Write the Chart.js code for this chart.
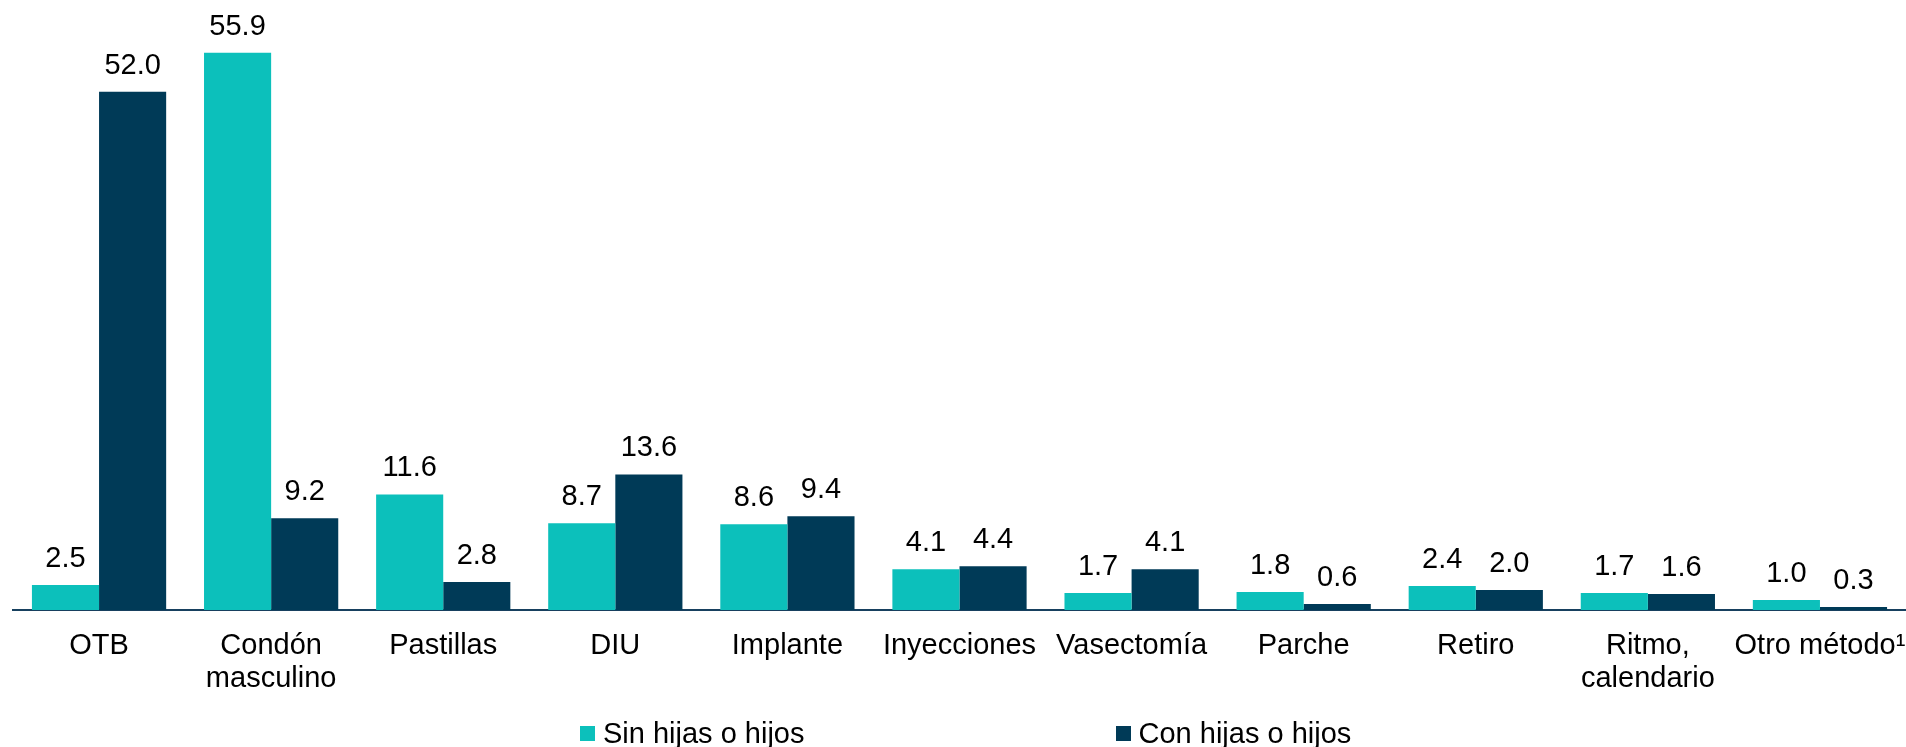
<!DOCTYPE html>
<html>
<head>
<meta charset="utf-8">
<script src="https://cdn.jsdelivr.net/npm/chart.js@4/dist/chart.umd.min.js"></script>
<style>
  html, body { margin: 0; padding: 0; background: #fff; }
  #wrap { position: relative; width: 1906px; height: 747px; }
  #legend {
    position: absolute; left: 580px; top: 717px; height: 32px;
    display: flex; align-items: center; gap: 311px;
    font: 29px "Liberation Sans", Arial, sans-serif; color: #000;
  }
  .item { display: flex; align-items: center; white-space: nowrap; }
  .box { width: 15px; height: 15px; margin-right: 8px; }
</style>
</head>
<body>
<div id="wrap">
  <canvas id="chart" width="1906" height="747"></canvas>
  <div id="legend"></div>
</div>
<script>
const categories = [
  "OTB", ["Condón", "masculino"], "Pastillas", "DIU", "Implante", "Inyecciones",
  "Vasectomía", "Parche", "Retiro", ["Ritmo,", "calendario"], "Otro método\u00b9"
];
const sinHijos = [2.5, 55.9, 11.6, 8.7, 8.6, 4.1, 1.7, 1.8, 2.4, 1.7, 1.0];
const conHijos = [52.0, 9.2, 2.8, 13.6, 9.4, 4.4, 4.1, 0.6, 2.0, 1.6, 0.3];
const seriesNames = ["Sin hijas o hijos", "Con hijas o hijos"];

const TEAL = "#0cc0bb";
const NAVY = "#003a57";
const FONT = '"Liberation Sans", Arial, sans-serif';

// value labels above each bar
const valueLabels = {
  id: "valueLabels",
  afterDatasetsDraw(chart) {
    const ctx = chart.ctx;
    ctx.save();
    ctx.font = "29px " + FONT;
    ctx.fillStyle = "#000";
    ctx.textAlign = "center";
    ctx.textBaseline = "alphabetic";
    chart.data.datasets.forEach((ds, i) => {
      chart.getDatasetMeta(i).data.forEach((bar, j) => {
        ctx.fillText(ds.data[j].toFixed(1), bar.x, bar.y - 18);
      });
    });
    ctx.restore();
  }
};

const chart = new Chart(document.getElementById("chart"), {
  type: "bar",
  data: {
    labels: categories,
    datasets: [
      { label: seriesNames[0], data: sinHijos, backgroundColor: TEAL },
      { label: seriesNames[1], data: conHijos, backgroundColor: NAVY }
    ]
  },
  options: {
    responsive: false,
    animation: false,
    layout: { padding: { left: 13, right: 0, top: 12, bottom: 0 } },
    datasets: { bar: { categoryPercentage: 0.78, barPercentage: 1.0 } },
    plugins: {
      legend: { display: false },
      tooltip: { enabled: false }
    },
    scales: {
      x: {
        grid: { display: false, drawTicks: false, tickLength: 0 },
        border: { display: true, color: "#17405f", width: 2 },
        ticks: {
          color: "#000",
          padding: 19,
          maxRotation: 0,
          autoSkip: false,
          font: { family: FONT, size: 29, lineHeight: 33 / 29 }
        },
        afterFit(scale) {
          scale.height = 137;
          // labels may overhang the edges, don't shrink the plot for them
          scale.paddingLeft = 0;
          scale.paddingRight = 0;
        }
      },
      y: { display: false, min: 0, max: 60 }
    }
  },
  plugins: [valueLabels]
});

// legend
const legendEl = document.getElementById("legend");
[TEAL, NAVY].forEach((c, i) => {
  const item = document.createElement("div");
  item.className = "item";
  item.innerHTML = '<span class="box" style="background:' + c + '"></span>' + seriesNames[i];
  legendEl.appendChild(item);
});
</script>
</body>
</html>
